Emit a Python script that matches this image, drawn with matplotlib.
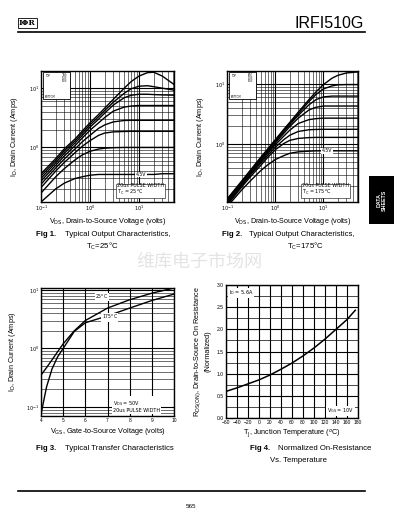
import numpy as np
import matplotlib
matplotlib.use("Agg")
import matplotlib.pyplot as plt
from matplotlib.lines import Line2D
from matplotlib.patches import Rectangle
from matplotlib.ticker import FixedLocator, LogLocator, NullFormatter, MultipleLocator

plt.rcParams["font.family"] = ["Liberation Sans", "DejaVu Sans"]

# ---- data ----
vgs_labels = ["15V", "10V", "8.0V", "7.0V", "6.0V", "5.5V", "5.0V", "4.5V"]
vds = [0.1, 0.2, 0.3, 0.5, 0.7, 1, 1.5, 2, 3, 5, 7, 10, 15, 20, 30, 55]

# Fig 1, Tc = 25C, drain current (A) per VGS curve
id25 = {
    "15V": [0.36, 0.65, 0.95, 1.4, 1.9, 2.6, 3.6, 4.6, 6.5, 10, 13, 16, 18.3, 18.6, 16, 11.2],
    "10V": [0.33, 0.6, 0.88, 1.3, 1.75, 2.4, 3.3, 4.2, 5.8, 8.2, 9.8, 10.8, 11, 10.6, 10, 9.2],
    "8.0V": [0.3, 0.55, 0.8, 1.2, 1.6, 2.2, 3.0, 3.8, 5.2, 6.9, 7.6, 7.9, 7.9, 7.8, 7.7, 7.6],
    "7.0V": [0.27, 0.5, 0.72, 1.08, 1.45, 1.95, 2.6, 3.2, 4.1, 4.8, 5.0, 5.1, 5.1, 5.1, 5.1, 5.1],
    "6.0V": [0.24, 0.45, 0.64, 0.95, 1.25, 1.6, 2.1, 2.4, 2.7, 2.85, 2.87, 2.87, 2.87, 2.87, 2.87, 2.87],
    "5.5V": [0.21, 0.4, 0.56, 0.82, 1.05, 1.3, 1.6, 1.75, 1.83, 1.86, 1.87, 1.87, 1.87, 1.87, 1.87, 1.87],
    "5.0V": [0.17, 0.32, 0.44, 0.62, 0.75, 0.86, 0.94, 0.97, 0.99, 1.0, 1.0, 1.0, 1.0, 1.0, 1.0, 1.0],
    "4.5V": [0.12, 0.2, 0.25, 0.3, 0.32, 0.34, 0.35, 0.35, 0.35, 0.35, 0.35, 0.35, 0.35, 0.35, 0.36, 0.36],
}

# Fig 2, Tc = 175C
id175 = {
    "15V": [0.12, 0.24, 0.36, 0.6, 0.83, 1.18, 1.75, 2.3, 3.4, 5.5, 7.4, 9.8, 12.5, 14, 15.3, 16],
    "10V": [0.12, 0.23, 0.35, 0.58, 0.8, 1.13, 1.68, 2.2, 3.2, 5.1, 6.7, 8.3, 9.3, 9.7, 9.8, 9.8],
    "8.0V": [0.115, 0.23, 0.34, 0.56, 0.77, 1.08, 1.6, 2.1, 3.0, 4.5, 5.5, 6.1, 6.3, 6.3, 6.3, 6.3],
    "7.0V": [0.11, 0.22, 0.33, 0.54, 0.74, 1.04, 1.5, 1.95, 2.7, 3.7, 4.1, 4.3, 4.3, 4.3, 4.3, 4.3],
    "6.0V": [0.105, 0.21, 0.31, 0.51, 0.7, 0.97, 1.35, 1.7, 2.2, 2.55, 2.65, 2.7, 2.7, 2.7, 2.7, 2.7],
    "5.5V": [0.1, 0.2, 0.3, 0.48, 0.65, 0.88, 1.18, 1.4, 1.62, 1.73, 1.75, 1.76, 1.76, 1.76, 1.76, 1.76],
    "5.0V": [0.095, 0.19, 0.28, 0.44, 0.6, 0.8, 1.02, 1.15, 1.24, 1.28, 1.29, 1.29, 1.29, 1.29, 1.29, 1.29],
    "4.5V": [0.09, 0.17, 0.24, 0.36, 0.45, 0.55, 0.64, 0.7, 0.74, 0.76, 0.77, 0.77, 0.77, 0.77, 0.77, 0.77],
}

# Fig 3, transfer characteristics
vgs = [4, 4.25, 4.5, 4.75, 5, 5.5, 6, 7, 8, 9, 10]
id_tj25 = [0.35, 0.47, 0.64, 0.88, 1.2, 2.0, 3.0, 4.9, 6.8, 8.8, 10.8]
id_tj175 = [0.075, 0.22, 0.45, 0.72, 1.0, 1.95, 2.75, 3.6, 4.9, 6.6, 8.5]

# Fig 4, normalized on-resistance
tj = [-60, -40, -20, 0, 20, 40, 60, 80, 100, 120, 140, 160, 175]
rds_norm = [0.6, 0.68, 0.77, 0.86, 0.97, 1.1, 1.24, 1.4, 1.58, 1.78, 2.0, 2.22, 2.43]

W, H = 398, 525
fig = plt.figure(figsize=(W / 100, H / 100), dpi=100)


def box(l, t, r, b):
    # pixel box -> figure fraction rect
    return [l / W, 1 - b / H, (r - l) / W, (b - t) / H]


def style_log(ax):
    ax.grid(True, which="major", color="k", lw=0.8)
    ax.grid(True, which="minor", color="k", lw=0.4)
    ax.tick_params(which="both", length=0, labelsize=3.5, pad=1.5)
    for s in ax.spines.values():
        s.set_linewidth(1.0)


def pow10(v, pos=None):
    e = int(round(np.log10(v)))
    return r"$10^{%d}$" % e


def output_chart(ax, curves, ylim, label45_x, label45_y, tc_text):
    for lab in vgs_labels:
        ax.plot(vds, curves[lab], color="k", lw=1.0)
    ax.set_xscale("log")
    ax.set_yscale("log")
    ax.set_xlim(0.1, 52)
    ax.set_ylim(*ylim)
    ax.xaxis.set_major_locator(FixedLocator([0.1, 1, 10]))
    ax.yaxis.set_major_locator(FixedLocator([1, 10]))
    ax.xaxis.set_minor_locator(LogLocator(subs=np.arange(2, 10)))
    ax.yaxis.set_minor_locator(LogLocator(subs=np.arange(2, 10)))
    ax.xaxis.set_major_formatter(plt.FuncFormatter(pow10))
    ax.yaxis.set_major_formatter(plt.FuncFormatter(pow10))
    ax.xaxis.set_minor_formatter(NullFormatter())
    ax.yaxis.set_minor_formatter(NullFormatter())
    style_log(ax)
    ax.set_xlabel(r"V$_{\rm DS}$, Drain-to-Source Voltage (volts)", fontsize=5.2, labelpad=2)
    ax.set_ylabel(r"I$_{\rm D}$, Drain Current (Amps)", fontsize=5.2, labelpad=6)
    # VGS list box
    ax.add_patch(Rectangle((0.015, 0.785), 0.205, 0.205, transform=ax.transAxes,
                           facecolor="white", edgecolor="k", lw=0.6, zorder=5))
    ax.text(0.03, 0.975, "TOP", transform=ax.transAxes, fontsize=1.8,
            va="top", family="DejaVu Sans", zorder=6)
    ax.text(0.03, 0.79, "BOTTOM", transform=ax.transAxes, fontsize=1.8,
            va="bottom", family="DejaVu Sans", zorder=6)
    ax.text(0.16, 0.982, "VGS\n" + "\n".join(vgs_labels), transform=ax.transAxes,
            fontsize=1.7, va="top", linespacing=1.0, family="DejaVu Sans", zorder=6)
    ax.text(label45_x, label45_y, "4.5V", fontsize=3.3, ha="center", va="center",
            family="DejaVu Sans",
            bbox=dict(facecolor="white", edgecolor="none", pad=0.3), zorder=6)
    ax.text(0.57, 0.035, "20us PULSE WIDTH\n" + tc_text, transform=ax.transAxes,
            fontsize=3.5, va="bottom", ha="left", family="DejaVu Sans", linespacing=1.1,
            bbox=dict(facecolor="white", edgecolor="k", lw=0.4, pad=0.6), zorder=6)


# Fig 1
ax1 = fig.add_axes(box(41, 71, 174, 202))
output_chart(ax1, id25, (0.12, 19.5), 11, 0.35, r"T$_{\rm C}$ = 25$^o$C")

# Fig 2
ax2 = fig.add_axes(box(227, 71, 358, 202))
output_chart(ax2, id175, (0.108, 16.5), 11.8, 0.77, r"T$_{\rm C}$ = 175$^o$C")

# Fig 3
ax3 = fig.add_axes(box(41, 288, 174, 416))
ax3.plot(vgs, id_tj25, color="k", lw=1.0)
ax3.plot(vgs, id_tj175, color="k", lw=1.0)
ax3.set_yscale("log")
ax3.set_xlim(4, 10)
ax3.set_ylim(0.07, 10.8)
ax3.xaxis.set_major_locator(MultipleLocator(1))
ax3.yaxis.set_major_locator(FixedLocator([0.1, 1, 10]))
ax3.yaxis.set_minor_locator(LogLocator(subs=np.arange(2, 10)))
ax3.yaxis.set_major_formatter(plt.FuncFormatter(pow10))
ax3.yaxis.set_minor_formatter(NullFormatter())
style_log(ax3)
ax3.set_xlabel(r"V$_{\rm GS}$, Gate-to-Source Voltage (volts)", fontsize=5.2, labelpad=2)
ax3.set_ylabel(r"I$_{\rm D}$, Drain Current (Amps)", fontsize=5.2, labelpad=6)
ax3.text(6.75, 7.6, r"25$^o$C", fontsize=3.3, ha="center", va="center", family="DejaVu Sans",
         bbox=dict(facecolor="white", edgecolor="none", pad=0.2))
ax3.text(7.1, 3.4, r"175$^o$C", fontsize=3.3, ha="center", va="center", family="DejaVu Sans",
         bbox=dict(facecolor="white", edgecolor="none", pad=0.2))
ax3.text(0.54, 0.02, r"V$_{\rm DS}$ = 50V" + "\n20us PULSE WIDTH", transform=ax3.transAxes,
         fontsize=3.5, va="bottom", ha="left", family="DejaVu Sans", linespacing=1.1,
         bbox=dict(facecolor="white", edgecolor="none", pad=0.6))

# Fig 4
ax4 = fig.add_axes(box(226, 285, 358, 418))
ax4.plot(tj, rds_norm, color="k", lw=1.1)
ax4.set_xlim(-60, 180)
ax4.set_ylim(0, 3.0)
ax4.xaxis.set_major_locator(MultipleLocator(20))
ax4.yaxis.set_major_locator(MultipleLocator(0.5))
ax4.yaxis.set_minor_locator(MultipleLocator(0.25))
ax4.yaxis.set_major_formatter(plt.FuncFormatter(lambda v, p: "%.1f" % v))
ax4.grid(True, which="major", color="k", lw=0.8)
ax4.grid(True, which="minor", axis="y", color="k", lw=0.5)
ax4.tick_params(which="both", length=0, labelsize=3.6, pad=1.5)
for s in ax4.spines.values():
    s.set_linewidth(1.0)
ax4.set_xlabel(r"T$_{\rm J}$, Junction Temperature ($^o$C)", fontsize=5.2, labelpad=2)
ax4.set_ylabel(r"R$_{\rm DS(ON)}$, Drain-to-Source On Resistance" + "\n(Normalized)",
               fontsize=5.2, labelpad=4, linespacing=1.3)
ax4.text(0.02, 0.975, r"I$_{\rm D}$ = 5.6A", transform=ax4.transAxes, fontsize=3.5,
         va="top", family="DejaVu Sans",
         bbox=dict(facecolor="white", edgecolor="none", pad=0.4))
ax4.text(0.97, 0.02, r"V$_{\rm GS}$ = 10V", transform=ax4.transAxes, fontsize=3.5,
         va="bottom", ha="right", family="DejaVu Sans",
         bbox=dict(facecolor="white", edgecolor="none", pad=0.4))

# captions
cap = dict(fontsize=5.6, va="center")
fig.text(36 / W, 1 - 234 / H, "Fig 1.", fontweight="bold", **cap)
fig.text(65 / W, 1 - 234 / H, "Typical Output Characteristics,", **cap)
fig.text(102 / W, 1 - 246 / H, r"T$_{\rm C}$=25°C", ha="center", **cap)
fig.text(222 / W, 1 - 234 / H, "Fig 2.", fontweight="bold", **cap)
fig.text(249 / W, 1 - 234 / H, "Typical Output Characteristics,", **cap)
fig.text(305 / W, 1 - 246 / H, r"T$_{\rm C}$=175°C", ha="center", **cap)
fig.text(36 / W, 1 - 449 / H, "Fig 3.", fontweight="bold", **cap)
fig.text(65 / W, 1 - 449 / H, "Typical Transfer Characteristics", **cap)
fig.text(250 / W, 1 - 449 / H, "Fig 4.", fontweight="bold", **cap)
fig.text(278 / W, 1 - 449 / H, "Normalized On-Resistance", **cap)
fig.text(298 / W, 1 - 461 / H, "Vs. Temperature", ha="center", **cap)

# page header / footer
fig.text(19 / W, 1 - 23 / H, "IΦR", fontsize=5.5, fontweight="bold", family="DejaVu Serif",
         va="center", bbox=dict(facecolor="white", edgecolor="k", lw=0.6, pad=0.6))
fig.text(364 / W, 1 - 24 / H, "IRFI510G", fontsize=11.5, ha="right", va="center")
fig.add_artist(Line2D([18 / W, 365 / W], [1 - 32 / H] * 2, color="k", lw=1.2))
fig.add_artist(Line2D([18 / W, 365 / W], [1 - 491 / H] * 2, color="k", lw=1.2))
fig.text(191 / W, 1 - 506 / H, "565", fontsize=4.5, ha="center", va="center")

# side tab
fig.add_artist(Rectangle((369 / W, 1 - 224 / H), 25 / W, 48 / H, transform=fig.transFigure,
                         facecolor="black", edgecolor="none"))
fig.text(381.5 / W, 1 - 200 / H, "DATA\nSHEETS", color="white", fontsize=3.8,
         rotation=90, ha="center", va="center", linespacing=1.1, fontweight="bold")

# watermark
fig.text(199 / W, 1 - 262 / H, "维库电子市场网", fontsize=13, color="#e4e4e4",
         ha="center", va="center", family=["Noto Sans CJK SC", "DejaVu Sans"])

fig.savefig("out.png", dpi=100, facecolor="white")
